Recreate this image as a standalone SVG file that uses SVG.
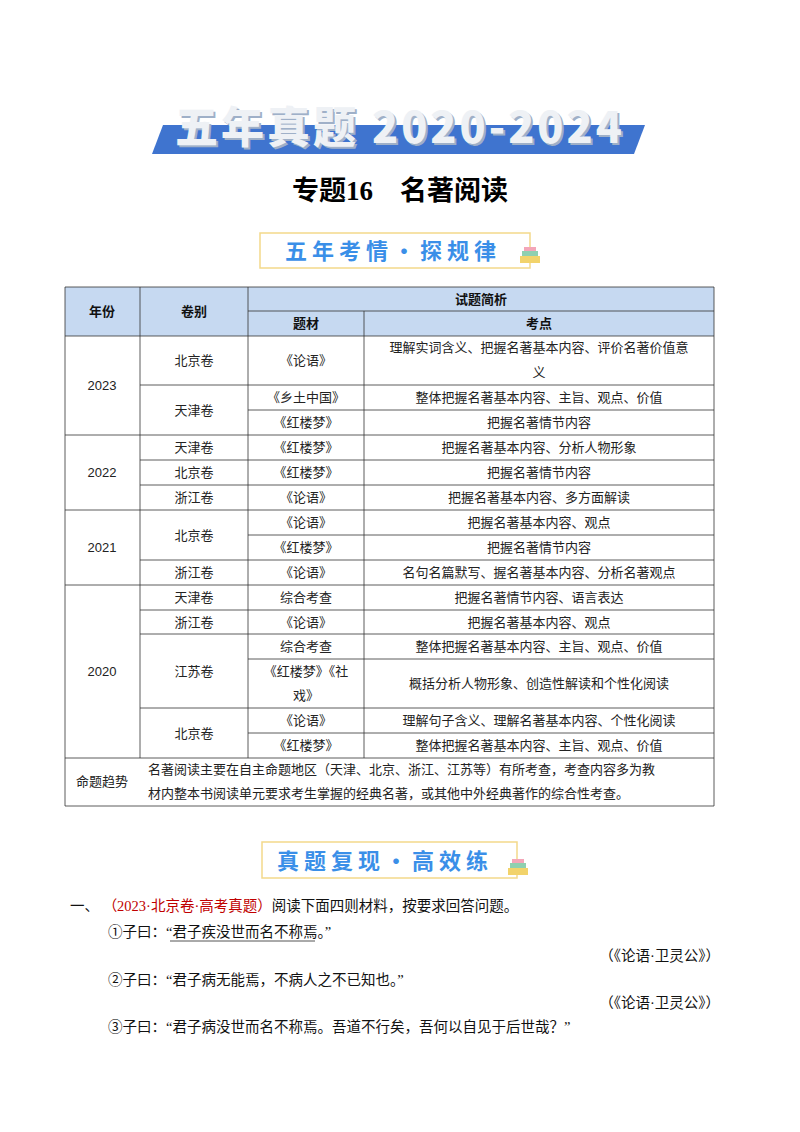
<svg xmlns="http://www.w3.org/2000/svg" width="800" height="1132" viewBox="0 0 800 1132">
<style>
.s{font-family:"Noto Sans CJK SC",sans-serif;font-size:13px;fill:#222;text-anchor:middle}
.h{font-family:"Noto Sans CJK SC",sans-serif;font-size:13px;font-weight:bold;fill:#111;text-anchor:middle}
.b{font-family:"Liberation Serif","Noto Sans CJK SC",serif;font-size:14.5px;fill:#111}
.g{stroke:#333;stroke-width:0.8;fill:none}
.box{fill:#fff;stroke:#f3d98a;stroke-width:1.5}
.bt{font-family:"Noto Sans CJK SC",sans-serif;font-size:22px;font-weight:bold;fill:#3a8fe8;text-anchor:middle;letter-spacing:5px}
</style>
<rect width="800" height="1132" fill="#fff"/>
<g id="title">
<polygon points="163,125 645,125 634,154 152,154" fill="#3f74cf"/>
<text x="402" y="145" font-family="Noto Sans CJK SC,sans-serif" font-size="43" font-weight="900" fill="#9fb0c8" text-anchor="middle" letter-spacing="3">五年真题 2020-2024</text>
<text x="400" y="143" font-family="Noto Sans CJK SC,sans-serif" font-size="43" font-weight="900" fill="#eef1f5" text-anchor="middle" letter-spacing="3">五年真题 2020-2024</text>
<text x="400" y="200" font-family="Liberation Serif,Noto Sans CJK SC,serif" font-size="27" font-weight="bold" fill="#000" text-anchor="middle">专题16　名著阅读</text>
</g>
<g id="box1">
<rect class="box" x="260" y="233" width="270" height="35"/>
<text class="bt" x="393" y="259">五年考情·探规律</text>
<rect x="520" y="256" width="20" height="7" fill="#f2d36b"/><rect x="522" y="251" width="16" height="5" fill="#8fd0b0"/><rect x="524" y="247" width="12" height="4" fill="#f4a6b8"/>
</g>
<g id="table">
<rect x="65" y="287" width="649" height="49" fill="#c6d9f1"/>
<path class="g" d="M65,287H714V806H65Z M140,287V758 M248,287V758 M248,311H714 M364,311V758 M65,336H714 M140,385H714 M248,410H714 M65,435H714 M140,460H714 M140,485H714 M65,510H714 M248,535H714 M140,560H714 M65,585H714 M140,610H714 M140,634H714 M248,659H714 M140,708H714 M248,733H714 M65,758H714"/>
<text class="h" x="102" y="316">年份</text><text class="h" x="194" y="316">卷别</text>
<text class="h" x="481" y="304">试题简析</text><text class="h" x="306" y="328">题材</text><text class="h" x="539" y="328">考点</text>
<g font-family="Liberation Sans,sans-serif" font-size="13" fill="#222" text-anchor="middle">
<text x="102" y="390">2023</text><text x="102" y="477">2022</text><text x="102" y="552">2021</text><text x="102" y="676">2020</text></g>
<text class="s" x="194" y="365">北京卷</text><text class="s" x="306" y="365">《论语》</text>
<text class="s" x="539" y="352">理解实词含义、把握名著基本内容、评价名著价值意</text><text class="s" x="539" y="377">义</text>
<text class="s" x="194" y="415">天津卷</text><text class="s" x="306" y="402">《乡土中国》</text><text class="s" x="539" y="402">整体把握名著基本内容、主旨、观点、价值</text>
<text class="s" x="306" y="427">《红楼梦》</text><text class="s" x="539" y="427">把握名著情节内容</text>
<text class="s" x="194" y="452">天津卷</text><text class="s" x="306" y="452">《红楼梦》</text><text class="s" x="539" y="452">把握名著基本内容、分析人物形象</text>
<text class="s" x="194" y="477">北京卷</text><text class="s" x="306" y="477">《红楼梦》</text><text class="s" x="539" y="477">把握名著情节内容</text>
<text class="s" x="194" y="502">浙江卷</text><text class="s" x="306" y="502">《论语》</text><text class="s" x="539" y="502">把握名著基本内容、多方面解读</text>
<text class="s" x="194" y="540">北京卷</text><text class="s" x="306" y="527">《论语》</text><text class="s" x="539" y="527">把握名著基本内容、观点</text>
<text class="s" x="306" y="552">《红楼梦》</text><text class="s" x="539" y="552">把握名著情节内容</text>
<text class="s" x="194" y="577">浙江卷</text><text class="s" x="306" y="577">《论语》</text><text class="s" x="539" y="577">名句名篇默写、握名著基本内容、分析名著观点</text>
<text class="s" x="194" y="602">天津卷</text><text class="s" x="306" y="602">综合考查</text><text class="s" x="539" y="602">把握名著情节内容、语言表达</text>
<text class="s" x="194" y="627">浙江卷</text><text class="s" x="306" y="627">《论语》</text><text class="s" x="539" y="627">把握名著基本内容、观点</text>
<text class="s" x="194" y="676">江苏卷</text><text class="s" x="306" y="651">综合考查</text><text class="s" x="539" y="651">整体把握名著基本内容、主旨、观点、价值</text>
<text class="s" x="306" y="676">《红楼梦》《社</text><text class="s" x="306" y="700">戏》</text><text class="s" x="539" y="688">概括分析人物形象、创造性解读和个性化阅读</text>
<text class="s" x="194" y="738">北京卷</text><text class="s" x="306" y="725">《论语》</text><text class="s" x="539" y="725">理解句子含义、理解名著基本内容、个性化阅读</text>
<text class="s" x="306" y="750">《红楼梦》</text><text class="s" x="539" y="750">整体把握名著基本内容、主旨、观点、价值</text>
<text class="s" x="102" y="786">命题趋势</text>
<text class="s" x="148" y="774" style="text-anchor:start">名著阅读主要在自主命题地区（天津、北京、浙江、江苏等）有所考查，考查内容多为教</text>
<text class="s" x="148" y="798" style="text-anchor:start">材内整本书阅读单元要求考生掌握的经典名著，或其他中外经典著作的综合性考查。</text>
</g>
<g id="box2">
<rect class="box" x="262" y="842" width="255" height="36"/>
<text class="bt" x="385" y="869">真题复现·高效练</text>
<rect x="508" y="868" width="20" height="7" fill="#f2d36b"/><rect x="510" y="863" width="16" height="5" fill="#8fd0b0"/><rect x="512" y="859" width="12" height="4" fill="#f4a6b8"/>
</g>
<g id="body" class="b">
<text x="70" y="911">一、 <tspan fill="#c00000">（2023·北京卷·高考真题）</tspan>阅读下面四则材料，按要求回答问题。</text>
<text x="108" y="937">①子曰：“君子疾没世而名不称焉。”</text>
<line x1="170" y1="941" x2="315" y2="941" stroke="#555" stroke-width="1"/>
<text x="720" y="961" text-anchor="end">（《论语·卫灵公》）</text>
<text x="108" y="985">②子曰：“君子病无能焉，不病人之不已知也。”</text>
<text x="720" y="1008" text-anchor="end">（《论语·卫灵公》）</text>
<text x="108" y="1032">③子曰：“君子病没世而名不称焉。吾道不行矣，吾何以自见于后世哉？”</text>
</g>
</svg>
